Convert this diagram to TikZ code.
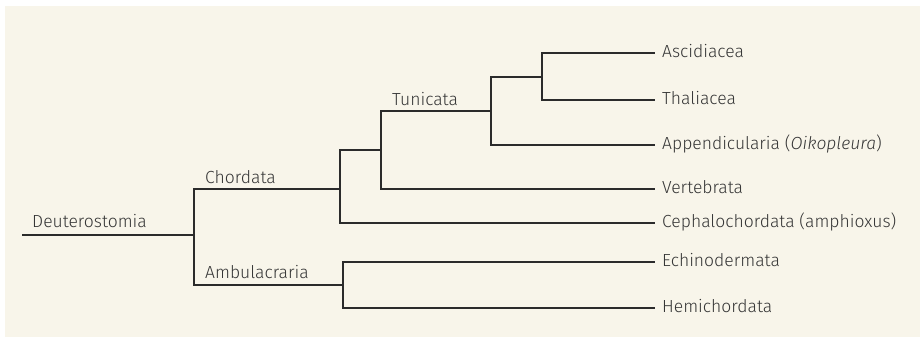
\documentclass[tikz,border=0pt]{standalone}
\usepackage{fontspec}
\setmainfont{Fira Sans Light}[ItalicFont={Fira Sans Light Italic}]
\definecolor{panel}{HTML}{F8F5EA}
\definecolor{linecol}{HTML}{2B2B2B}
\definecolor{shadowcol}{HTML}{D2BDB2}
\definecolor{txt}{HTML}{363636}
\begin{document}
\begin{tikzpicture}[x=1pt,y=-1pt,
  edge/.style={draw=linecol, line width=1.3pt, line join=miter},
  edgeshadow/.style={draw=shadowcol, line width=2pt, line join=miter},
  clade/.style={anchor=base west, inner sep=0pt, text=txt,
    font=\fontsize{17.5}{20}\selectfont},
  taxon/.style={clade}]
  % panel
  \useasboundingbox (0,0) rectangle (920,337);
  \fill[panel] (5,6) rectangle (920,337);

  % internal nodes
  \coordinate (r0) at (22,235);
  \coordinate (root) at (194,235);
  \coordinate (chor) at (340,189);
  \coordinate (amb) at (343,285);
  \coordinate (olf) at (381,150);
  \coordinate (tun) at (491,111);
  \coordinate (at) at (542,77);

  % tips
  \coordinate (asc) at (655,53);
  \coordinate (tha) at (655,100);
  \coordinate (app) at (655,145);
  \coordinate (ver) at (655,189);
  \coordinate (cep) at (655,223);
  \coordinate (ech) at (655,262);
  \coordinate (hem) at (655,308);

  % branches: a soft offset shadow first, then the dark line
  \foreach \sty/\dx/\dy in {edgeshadow/1.2/1.5, edge/0/0}{
    \begin{scope}[\sty, shift={(\dx,\dy)}]
      \draw (r0) -- (root);
      \draw (root) |- (chor);
      \draw (root) |- (amb);
      \draw (chor) |- (olf);
      \draw (chor) |- (cep);
      \draw (olf) |- (tun);
      \draw (olf) |- (ver);
      \draw (tun) |- (at);
      \draw (tun) |- (app);
      \draw (at) |- (asc);
      \draw (at) |- (tha);
      \draw (amb) |- (ech);
      \draw (amb) |- (hem);
    \end{scope}
  }

  % clade names
  \node[clade] (lDeu) at (32,227) {Deuterostomia};
  \node[clade] (lCho) at (205,183) {Chordata};
  \node[clade] (lTun) at (392,105) {Tunicata};
  \node[clade] (lAmb) at (205,278) {Ambulacraria};

  % taxon names
  \node[taxon] (tAsc) at (662,57) {Ascidiacea};
  \node[taxon] (tTha) at (662,104) {Thaliacea};
  \node[taxon] (tApp) at (662,149) {Appendicularia (\textit{Oikopleura})};
  \node[taxon] (tVer) at (662,193) {Vertebrata};
  \node[taxon] (tCep) at (662,227) {Cephalochordata (amphioxus)};
  \node[taxon] (tEch) at (662,266) {Echinodermata};
  \node[taxon] (tHem) at (662,312) {Hemichordata};
\end{tikzpicture}
\end{document}
